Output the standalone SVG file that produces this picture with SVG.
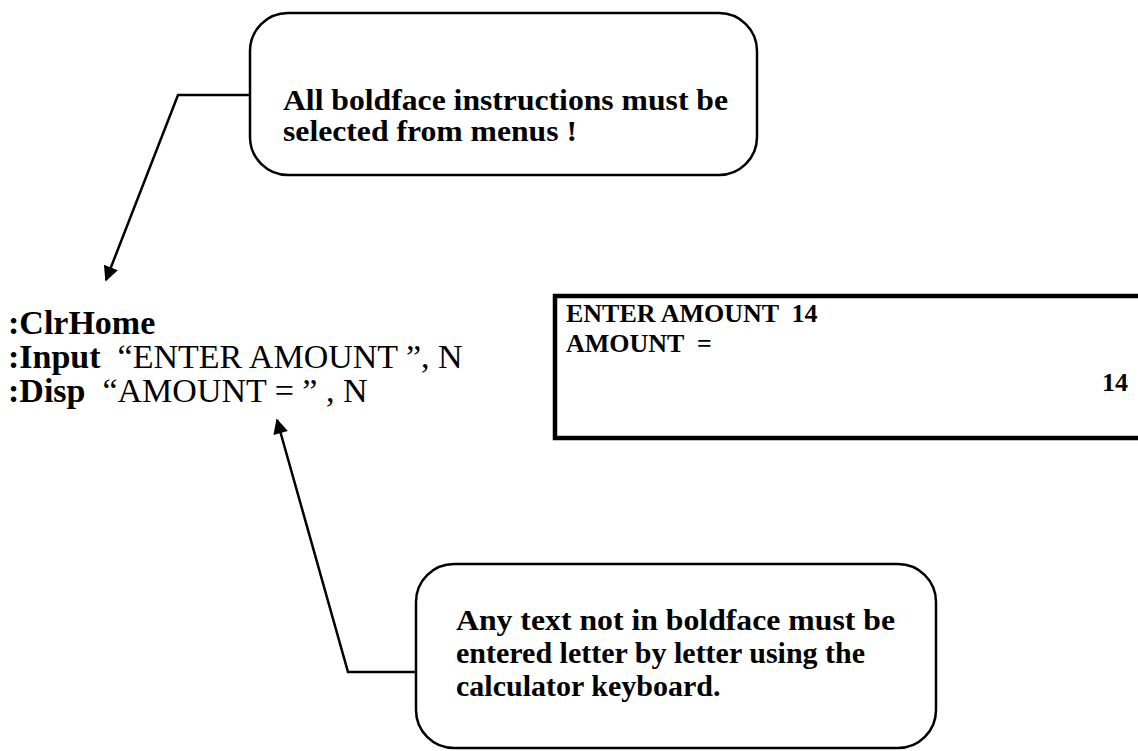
<svg xmlns="http://www.w3.org/2000/svg" width="1138" height="751" viewBox="0 0 1138 751">
  <style>
    .note { font-family: "Liberation Serif", "Times New Roman", serif; font-weight: bold; font-size: 30px; fill: #000; }
    .code { font-family: "Liberation Serif", "Times New Roman", serif; font-size: 34px; fill: #000; }
    .kw { font-weight: bold; }
    .screen { font-family: "Liberation Serif", "Times New Roman", serif; font-weight: bold; font-size: 26px; fill: #000; }
    .callout { fill: #fff; stroke: #000; stroke-width: 2.5; }
    .wire { fill: none; stroke: #000; stroke-width: 2.5; }
  </style>
  <defs>
    <marker id="arrow" viewBox="0 0 10 10" refX="9" refY="5" markerWidth="7" markerHeight="6" markerUnits="strokeWidth" orient="auto">
      <path d="M0,0 L10,5 L0,10 z" fill="#000"/>
    </marker>
  </defs>
  <rect width="1138" height="751" fill="#fff"/>

  <!-- connectors -->
  <g id="connectors">
    <polyline class="wire" points="250,95 178,95 106,280" marker-end="url(#arrow)"/>
    <polyline class="wire" points="416,672 348,672 277,420" marker-end="url(#arrow)"/>
  </g>

  <!-- menu note -->
  <g id="note-menus">
    <rect class="callout" x="250" y="13" width="507" height="162" rx="38" ry="38"/>
    <text class="note" x="283" y="110" textLength="445" lengthAdjust="spacingAndGlyphs">All boldface instructions must be</text>
    <text class="note" x="283" y="141" textLength="294" lengthAdjust="spacingAndGlyphs">selected from menus !</text>
  </g>

  <!-- program listing -->
  <g id="program">
    <text class="code" x="8" y="334" xml:space="preserve"><tspan class="kw">:ClrHome</tspan></text>
    <text class="code" x="8" y="368" xml:space="preserve"><tspan class="kw">:Input</tspan>  “ENTER AMOUNT ”, N</text>
    <text class="code" x="8" y="402" xml:space="preserve"><tspan class="kw">:Disp</tspan>  “AMOUNT = ” , N</text>
  </g>

  <!-- calculator screen -->
  <g id="screen">
    <rect x="555" y="296" width="600" height="142" fill="#fff" stroke="#000" stroke-width="4.5"/>
    <text class="screen" x="566" y="322" xml:space="preserve">ENTER AMOUNT  14</text>
    <text class="screen" x="566" y="352" xml:space="preserve">AMOUNT  =</text>
    <text class="screen" x="1128" y="391" text-anchor="end">14</text>
  </g>

  <!-- keyboard note -->
  <g id="note-keyboard">
    <rect class="callout" x="416" y="564" width="520" height="184" rx="38" ry="38"/>
    <text class="note" x="456" y="630" textLength="439" lengthAdjust="spacingAndGlyphs">Any text not in boldface must be</text>
    <text class="note" x="456" y="663">entered letter by letter using the</text>
    <text class="note" x="456" y="696">calculator keyboard.</text>
  </g>
</svg>
